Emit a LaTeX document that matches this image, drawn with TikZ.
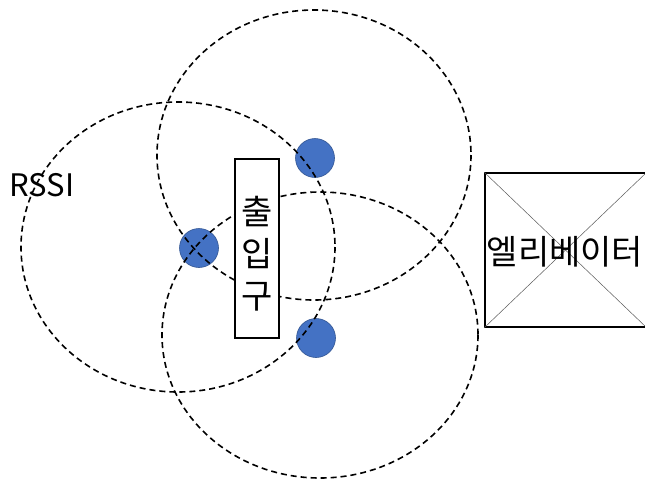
\documentclass[tikz,border=0pt]{standalone}
\usepackage{fontspec}
\setmainfont{Noto Sans CJK KR}
\definecolor{dotblue}{HTML}{4472C4}

\begin{document}
\begin{tikzpicture}[x=1pt,y=-1pt,
  zone/.style={dash pattern=on 6pt off 4pt,line width=1.6pt},
  beacon/.style={circle,fill=dotblue,draw=dotblue!75!black,line width=0.6pt,minimum size=39pt,inner sep=0pt},
  gatebox/.style={draw,fill=white,line width=1.8pt,minimum width=44pt,minimum height=179pt,inner sep=0pt},
  liftbox/.style={draw,line width=1.4pt,minimum width=161pt,minimum height=154pt,inner sep=0pt}]
\useasboundingbox (0,0) rectangle (645,480);
\node[beacon] (b1) at (315,158) {};
\node[beacon] (b2) at (199,248) {};
\node[beacon] (b3) at (316,338) {};
\draw[zone] (314,155) ellipse [x radius=157,y radius=145];
\draw[zone] (178,247) ellipse [x radius=157,y radius=145];
\draw[zone] (320,335) ellipse [x radius=158,y radius=143];
\node[gatebox] (gate) at (257,248.5) {};
\node[align=center,font=\fontsize{34}{42}\selectfont] (gatename) at (257,254) {출\\입\\구};
\node[liftbox] (lift) at (565.5,250) {};
\draw[gray!70!black,line width=0.5pt] (lift.north west) -- (lift.south east);
\draw[gray!70!black,line width=0.5pt] (lift.south west) -- (lift.north east);
\node[font=\fontsize{34}{34}\selectfont] (liftname) at (565,252) {엘리베이터};
\node[font=\fontsize{31}{31}\selectfont] (rssi) at (42,185) {RSSI};
\end{tikzpicture}
\end{document}
